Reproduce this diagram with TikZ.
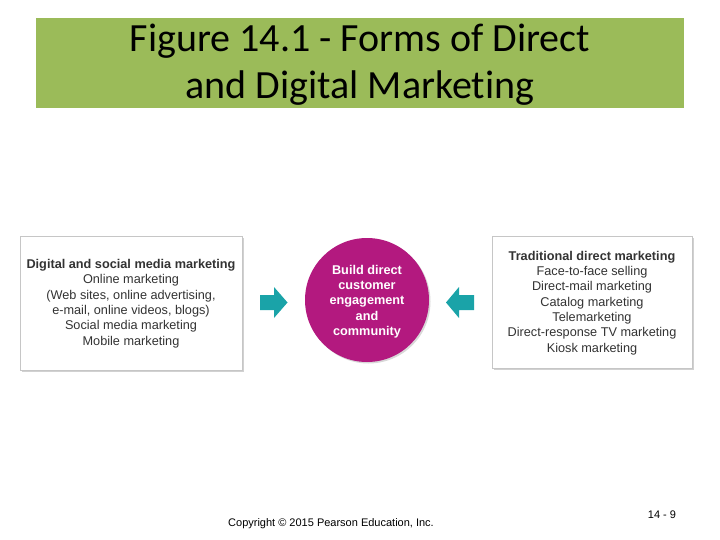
\documentclass[tikz,border=0pt]{standalone}
\usepackage{fontspec}
\setmainfont{Liberation Sans}
\newfontfamily\titlefont[Ligatures=NoCommon]{Carlito}
\usetikzlibrary{shadows}
\definecolor{titlegreen}{HTML}{9BBB59}
\definecolor{hubpink}{HTML}{B3197F}
\definecolor{arrowteal}{HTML}{1AA3A8}
\definecolor{txtgray}{HTML}{333333}
\tikzset{
  box/.style={draw=gray!45, line width=0.6pt, fill=white, drop shadow={shadow xshift=2pt, shadow yshift=-2pt, fill=gray!60, opacity=0.6}},
  boxtext/.style={align=center, font=\fontsize{12.7}{15.3}\selectfont, text=txtgray, inner sep=0pt},
  tealarrow/.style={fill=arrowteal, draw=none},
}
\begin{document}
\begin{tikzpicture}[x=1pt,y=-1pt]
\useasboundingbox (0,0) rectangle (720,540);
% title band
\node[fill=titlegreen, minimum width=648pt, minimum height=90pt, inner sep=0pt, anchor=north west] (band) at (36,18) {};
\node[font=\titlefont\fontsize{40}{47}\selectfont, align=center, text=black, inner sep=0pt] (title) at (360,65) {Figure 14.1 - Forms of Direct\\and Digital Marketing};
% left box
\node[box, minimum width=222pt, minimum height=134pt, anchor=north west, inner sep=0pt] (lbox) at (20,236) {};
\node[boxtext] (ltext) at (131,303.5) {\textbf{Digital and social media marketing}\\Online marketing\\(Web sites, online advertising,\\e-mail, online videos, blogs)\\Social media marketing\\Mobile marketing};
% right box
\node[box, minimum width=200pt, minimum height=132pt, anchor=north west, inner sep=0pt] (rbox) at (492,236) {};
\node[boxtext] (rtext) at (592,303) {\textbf{Traditional direct marketing}\\Face-to-face selling\\Direct-mail marketing\\Catalog marketing\\Telemarketing\\Direct-response TV marketing\\Kiosk marketing};
% hub
\node[circle, fill=hubpink, minimum size=124pt, inner sep=0pt, drop shadow={shadow xshift=1.5pt, shadow yshift=-1.5pt, fill=gray!60, opacity=0.5}] (hub) at (367,300) {};
\node[align=center, text=white, font=\bfseries\fontsize{12.7}{15.3}\selectfont, inner sep=0pt] (hubtext) at (367,301.5) {Build direct\\customer\\engagement\\and\\community};
% arrows
\coordinate (la) at (260,302.5);
\fill[tealarrow] (la) ++(0,-7.5) -- ++(14,0) -- ++(0,-8) -- ++(13.5,15.5) -- ++(-13.5,15.5) -- ++(0,-8) -- ++(-14,0) -- cycle;
\coordinate (ra) at (474,302.5);
\fill[tealarrow] (ra) ++(0,-7.5) -- ++(-15,0) -- ++(0,-8) -- ++(-13,15.5) -- ++(13,15.5) -- ++(0,-8) -- ++(15,0) -- cycle;
% footer
\node[font=\fontsize{11}{12}\selectfont, anchor=west, inner sep=0pt] (copy) at (228,524) {Copyright © 2015 Pearson Education, Inc.};
\node[font=\fontsize{11}{12}\selectfont, inner sep=0pt] (page) at (662,515) {14 - 9};
\end{tikzpicture}
\end{document}
